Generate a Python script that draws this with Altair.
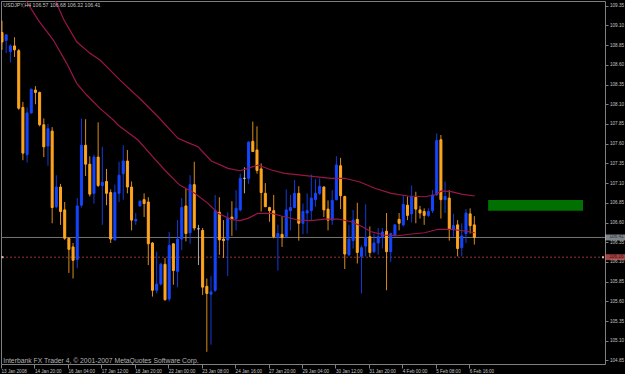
import json
import altair as alt
import pandas as pd

# ---------------- data ----------------
symbol = "USDJPY,H4"

opens = [109.01, 108.91, 108.77, 108.84, 108.78, 108.06, 107.46, 107.99, 108.28, 108.25,
         107.84, 107.57, 107.76, 106.80, 107.05, 106.76, 106.40, 106.29, 106.13, 106.82,
         107.58, 107.34, 106.97, 107.43, 107.07, 107.12, 106.98, 106.38, 106.97, 107.22,
         107.38, 107.05, 106.62, 106.81, 106.89, 106.86, 106.34, 105.74, 105.82, 106.07,
         105.63, 106.33, 105.98, 106.39, 106.81, 106.47, 107.08, 106.52, 106.50, 105.79,
         105.69, 105.74, 106.73, 106.39, 106.38, 106.67, 106.65, 106.76, 107.16, 107.16,
         107.63, 107.52, 107.28, 106.97, 106.79, 106.75, 106.41, 106.45, 106.42, 106.75,
         106.79, 106.97, 106.59, 106.72, 106.75, 106.89, 106.97, 107.05, 106.77, 106.63,
         106.89, 107.32, 106.93, 106.19, 106.37, 106.64, 106.17, 106.30, 106.42, 106.23,
         106.34, 106.41, 106.49, 106.23, 106.44, 106.64, 106.57, 106.82, 106.71, 106.92,
         106.76, 106.74, 106.69, 106.75, 106.95, 107.65, 106.89, 106.91, 106.51, 106.57,
         106.28, 106.46, 106.71, 106.57]
highs = [109.16, 108.99, 108.86, 108.95, 108.80, 108.13, 108.06, 108.30, 108.33, 108.26,
         107.92, 107.85, 107.81, 107.20, 107.09, 106.86, 106.41, 106.34, 106.91, 107.92,
         107.91, 107.44, 107.46, 107.87, 107.56, 107.28, 107.02, 107.08, 107.37, 107.58,
         107.52, 107.12, 106.72, 106.88, 106.97, 106.92, 106.35, 106.23, 106.09, 106.15,
         106.48, 106.34, 106.63, 106.91, 107.03, 107.20, 107.37, 106.57, 106.53, 105.89,
         105.92, 106.95, 106.92, 106.63, 106.73, 106.87, 107.01, 107.22, 107.30, 107.63,
         107.88, 107.82, 107.35, 107.10, 106.80, 106.95, 106.57, 106.68, 107.02, 106.95,
         107.14, 107.06, 106.84, 106.97, 107.21, 107.15, 107.16, 107.06, 106.88, 107.01,
         107.44, 107.42, 106.94, 106.57, 106.76, 106.85, 106.31, 106.83, 106.55, 106.46,
         106.53, 106.53, 106.72, 106.47, 106.58, 106.72, 106.95, 106.93, 107.07, 106.99,
         106.81, 106.78, 106.78, 107.01, 107.73, 107.71, 107.12, 107.01, 106.71, 106.63,
         106.59, 106.77, 106.78, 106.68]
lows = [108.79, 108.75, 108.63, 108.70, 108.03, 107.39, 107.36, 107.98, 108.10, 107.82,
        107.43, 107.32, 106.59, 106.78, 106.57, 106.38, 105.96, 105.89, 106.02, 106.79,
        107.19, 106.93, 106.84, 107.05, 106.57, 106.82, 106.34, 106.37, 106.86, 106.89,
        106.97, 106.50, 106.57, 106.80, 106.67, 106.06, 105.66, 105.70, 105.80, 105.61,
        105.60, 105.81, 105.78, 106.25, 106.36, 106.33, 106.50, 106.06, 105.68, 104.96,
        105.05, 105.72, 106.19, 106.15, 105.92, 106.43, 106.50, 106.74, 106.97, 107.09,
        107.50, 107.22, 106.74, 106.80, 106.61, 106.40, 105.99, 106.29, 106.40, 106.50,
        106.78, 106.37, 106.45, 106.46, 106.63, 106.80, 106.95, 106.67, 106.50, 106.57,
        106.88, 106.77, 106.01, 106.17, 106.27, 106.08, 105.70, 106.17, 106.16, 106.21,
        106.19, 106.27, 105.74, 106.10, 106.42, 106.50, 106.55, 106.63, 106.60, 106.59,
        106.65, 106.57, 106.67, 106.72, 106.94, 106.65, 106.72, 106.37, 106.42, 106.17,
        106.17, 106.34, 106.46, 106.32]
closes = [108.89, 108.98, 108.84, 108.79, 108.05, 107.48, 107.99, 108.29, 108.25, 107.84,
          107.56, 107.79, 106.79, 107.05, 106.74, 106.40, 106.26, 106.12, 106.81, 107.58,
          107.34, 106.96, 107.43, 107.07, 107.11, 106.97, 106.39, 106.98, 107.20, 107.38,
          107.05, 106.63, 106.64, 106.87, 106.84, 106.33, 105.74, 105.82, 106.07, 105.62,
          106.31, 105.99, 106.39, 106.79, 106.46, 107.08, 106.53, 106.52, 105.78, 105.70,
          105.72, 106.75, 106.38, 106.37, 106.65, 106.64, 106.78, 107.16, 107.16, 107.62,
          107.50, 107.26, 106.98, 106.80, 106.75, 106.42, 106.46, 106.41, 106.76, 106.79,
          106.97, 106.59, 106.74, 106.75, 106.91, 106.97, 107.06, 106.76, 106.63, 106.88,
          107.33, 106.94, 106.20, 106.39, 106.63, 106.22, 106.28, 106.41, 106.22, 106.34,
          106.42, 106.48, 106.23, 106.46, 106.57, 106.59, 106.83, 106.69, 106.93, 106.77,
          106.72, 106.69, 106.74, 106.95, 107.64, 106.89, 106.93, 106.51, 106.56, 106.27,
          106.43, 106.72, 106.56, 106.41]

# moving averages: (bar position, value)
ma_fast_k = [4.31, 5.91, 8.68, 12.27, 15.48, 17.87, 20.26, 23.44, 26.63, 27.75, 32.54, 35.72,
             38.92, 42.51, 46.10, 49.28, 51.67, 54.86, 56.94, 58.85, 61.24, 64.43, 66.82,
             70.81, 74.00, 77.20, 80.38, 83.56, 85.65, 88.35, 91.56, 94.74, 97.92, 101.12,
             104.31, 107.49, 110.69, 113.09]
ma_fast_v = [109.536, 109.400, 109.168, 108.915, 108.619, 108.365, 108.217, 108.048, 107.900,
             107.837, 107.646, 107.456, 107.266, 107.075, 106.970, 106.843, 106.717, 106.640,
             106.625, 106.653, 106.717, 106.717, 106.682, 106.632, 106.623, 106.644, 106.644,
             106.610, 106.562, 106.483, 106.441, 106.432, 106.454, 106.470, 106.514, 106.514,
             106.492, 106.470]
ma_slow_k = [11.48, 12.68, 14.83, 17.87, 21.05, 23.44, 26.63, 28.23, 33.33, 37.32, 42.11, 44.90,
             46.89, 50.07, 54.07, 56.94, 58.85, 61.24, 64.43, 67.63, 71.60, 74.81, 78.78,
             81.99, 85.65, 89.16, 93.13, 97.13, 101.12, 103.52, 105.10, 107.49, 109.88, 113.09]
ma_slow_v = [109.549, 109.422, 109.168, 108.893, 108.746, 108.661, 108.492, 108.407, 108.154,
             107.942, 107.668, 107.604, 107.561, 107.380, 107.287, 107.257, 107.287, 107.329,
             107.266, 107.224, 107.202, 107.181, 107.161, 107.161, 107.114, 107.034, 106.970,
             106.936, 106.927, 106.949, 107.000, 106.991, 106.961, 106.936]

time_labels = ["13 Jan 2008", "14 Jan 20:00", "16 Jan 04:00", "17 Jan 12:00", "18 Jan 20:00",
               "22 Jan 00:00", "23 Jan 08:00", "24 Jan 16:00", "27 Jan 20:00", "29 Jan 04:00",
               "30 Jan 12:00", "31 Jan 20:00", "4 Feb 00:00", "5 Feb 08:00", "6 Feb 16:00"]
time_tick_bars = [-0.24, 7.76, 15.76, 23.76, 31.76, 39.76, 47.76, 55.76, 63.76, 71.76,
                  79.76, 87.76, 95.76, 103.76, 111.76]
price_ticks = [104.85, 105.10, 105.35, 105.60, 105.85, 106.10, 106.35, 106.60, 106.85, 107.10,
               107.35, 107.60, 107.85, 108.10, 108.35, 108.60, 108.85, 109.10, 109.35]

bid_price = 106.41
order_price = 106.16
zone_bars = [116.3, 139.0]
zone_prices = [106.75, 106.885]
copyright_text = "Interbank FX Trader 4, \u00a9 2001-2007 MetaQuotes Software Corp."

# ---------------- tables ----------------
n = len(opens)
candles = pd.DataFrame({"k": list(range(n)), "o": opens, "h": highs, "l": lows, "c": closes})
candles["dir"] = ["up" if c > o else ("down" if c < o else "doji") for o, c in zip(opens, closes)]
ma_fast = pd.DataFrame({"k": ma_fast_k, "p": ma_fast_v})
ma_slow = pd.DataFrame({"k": ma_slow_k, "p": ma_slow_v})
hlines = pd.DataFrame({"p": [bid_price, order_price], "kind": ["bid", "order"]})
zone = pd.DataFrame({"k1": [zone_bars[0]], "k2": [zone_bars[1]],
                     "p1": [zone_prices[0]], "p2": [zone_prices[1]]})
tags = pd.DataFrame({"p": [bid_price, order_price], "kind": ["bid", "order"],
                     "txt": [f"{bid_price:.2f}", f"{order_price:.2f}"]})
one = pd.DataFrame({"a": [0]})

# ---------------- scales / axes ----------------
FONT = "Liberation Sans"
GREY = "#808080"
LBL = "#c4c4c4"

xscale = alt.Scale(domain=[-0.24, 144.26], nice=False, zero=False)
yscale = alt.Scale(domain=[104.805, 109.41], nice=False, zero=False)

label_expr = json.dumps(time_labels) + "[round((datum.value + 0.24) / 8)]"
xaxis = alt.Axis(values=time_tick_bars, labelExpr=label_expr, title=None, grid=False,
                 domain=False, tickColor=GREY, tickSize=4, labelColor=LBL, labelFont=FONT,
                 labelFontSize=4.6, labelAlign="left", labelBaseline="top", labelPadding=0.5,
                 labelFlush=False, labelOverlap=False, labelBound=False)
yaxis = alt.Axis(values=price_ticks, format=".2f", orient="right", title=None, grid=False,
                 domain=False, tickColor=GREY, tickSize=3, labelColor=LBL, labelFont=FONT,
                 labelFontSize=4.6, labelPadding=1.5, labelBaseline="middle",
                 labelFlush=False, labelOverlap=False, labelBound=False)

cscale = alt.Scale(domain=["up", "down", "doji"], range=["#1446ff", "#ffa51e", "#c8c8c8"])

# ---------------- layers ----------------
zone_layer = alt.Chart(zone).mark_rect(color="#007000", clip=True).encode(
    x=alt.X("k1:Q", scale=xscale, axis=xaxis), x2="k2:Q",
    y=alt.Y("p1:Q", scale=yscale, axis=yaxis), y2="p2:Q")

bid_layer = alt.Chart(hlines).transform_filter("datum.kind == 'bid'").mark_rule(
    color="#767676", strokeWidth=1).encode(
    y=alt.Y("p:Q", scale=yscale, axis=yaxis), x=alt.value(0), x2=alt.value(604))

order_layer = alt.Chart(hlines).transform_filter("datum.kind == 'order'").mark_rule(
    color="#9a3030", strokeWidth=1, strokeDash=[2, 2]).encode(
    y=alt.Y("p:Q", scale=yscale, axis=yaxis), x=alt.value(1), x2=alt.value(604))

order_marker = alt.Chart(hlines).transform_filter("datum.kind == 'order'").mark_tick(
    orient="horizontal", size=2, thickness=2, color="#ffffff").encode(
    y=alt.Y("p:Q", scale=yscale, axis=yaxis), x=alt.value(1.5))
order_marker_r = alt.Chart(hlines).transform_filter("datum.kind == 'order'").mark_tick(
    orient="horizontal", size=2, thickness=2, color="#ffffff").encode(
    y=alt.Y("p:Q", scale=yscale, axis=yaxis), x=alt.value(602))

wicks = alt.Chart(candles).mark_rule(strokeWidth=1, clip=True, opacity=0.85).encode(
    x=alt.X("k:Q", scale=xscale, axis=xaxis),
    y=alt.Y("l:Q", scale=yscale, axis=yaxis), y2="h:Q",
    color=alt.Color("dir:N", scale=cscale, legend=None))

bodies = alt.Chart(candles).transform_calculate(
    k1="datum.k - 0.24", k2="datum.k + 0.24").mark_rect(strokeWidth=1, clip=True).encode(
    x=alt.X("k1:Q", scale=xscale, axis=xaxis), x2="k2:Q",
    y=alt.Y("o:Q", scale=yscale, axis=yaxis), y2="c:Q",
    color=alt.Color("dir:N", scale=cscale, legend=None),
    stroke=alt.Stroke("dir:N", scale=cscale, legend=None))

ma_col = "#9a1648"
fast_layer = alt.Chart(ma_fast).mark_line(color=ma_col, strokeWidth=1.2, clip=True).encode(
    x=alt.X("k:Q", scale=xscale, axis=xaxis), y=alt.Y("p:Q", scale=yscale, axis=yaxis))
slow_layer = alt.Chart(ma_slow).mark_line(color=ma_col, strokeWidth=1.2, clip=True).encode(
    x=alt.X("k:Q", scale=xscale, axis=xaxis), y=alt.Y("p:Q", scale=yscale, axis=yaxis))

tag_box = alt.Chart(tags).mark_tick(orient="horizontal", size=20, thickness=6).encode(
    y=alt.Y("p:Q", scale=yscale, axis=yaxis), x=alt.value(614),
    color=alt.Color("kind:N", scale=alt.Scale(domain=["bid", "order"],
                                              range=["#b4bcc4", "#e06464"]), legend=None))
tag_text = alt.Chart(tags).mark_text(align="left", baseline="middle", font=FONT,
                                     fontSize=4.6).encode(
    y=alt.Y("p:Q", scale=yscale, axis=yaxis), x=alt.value(608.5), text="txt:N",
    color=alt.Color("kind:N", scale=alt.Scale(domain=["bid", "order"],
                                              range=["#303438", "#5a0c0c"]), legend=None))

title_text = (f"{symbol} {opens[-1]:.2f} {highs[-1]:.2f} "
              f"{lows[-1]:.2f} {closes[-1]:.2f}")
title_layer = alt.Chart(one).mark_text(align="left", baseline="middle", font=FONT,
                                       fontSize=5.2).encode(
    x=alt.value(2.3), y=alt.value(4.4), text=alt.value(title_text),
    color=alt.value(LBL))
copy_layer = alt.Chart(one).mark_text(align="left", baseline="alphabetic", font=FONT,
                                      fontSize=6.8).encode(
    x=alt.value(2.3), y=alt.value(361.8), text=alt.value(copyright_text),
    color=alt.value("#b4b4b4"))

chart = alt.layer(
    zone_layer, bid_layer, order_layer, order_marker, order_marker_r, wicks, bodies,
    fast_layer, slow_layer, tag_box, tag_text, title_layer, copy_layer
).resolve_scale(color="independent", stroke="independent").properties(
    width=604, height=363, background="#000000",
    padding={"left": 1, "top": 1, "right": 20, "bottom": 10},
    autosize=alt.AutoSizeParams(type="none"),
).configure_view(stroke="#7f7f7f", strokeWidth=1, fill="#000000")

chart.save("out.html", embed_options={"renderer": "svg", "actions": False})
